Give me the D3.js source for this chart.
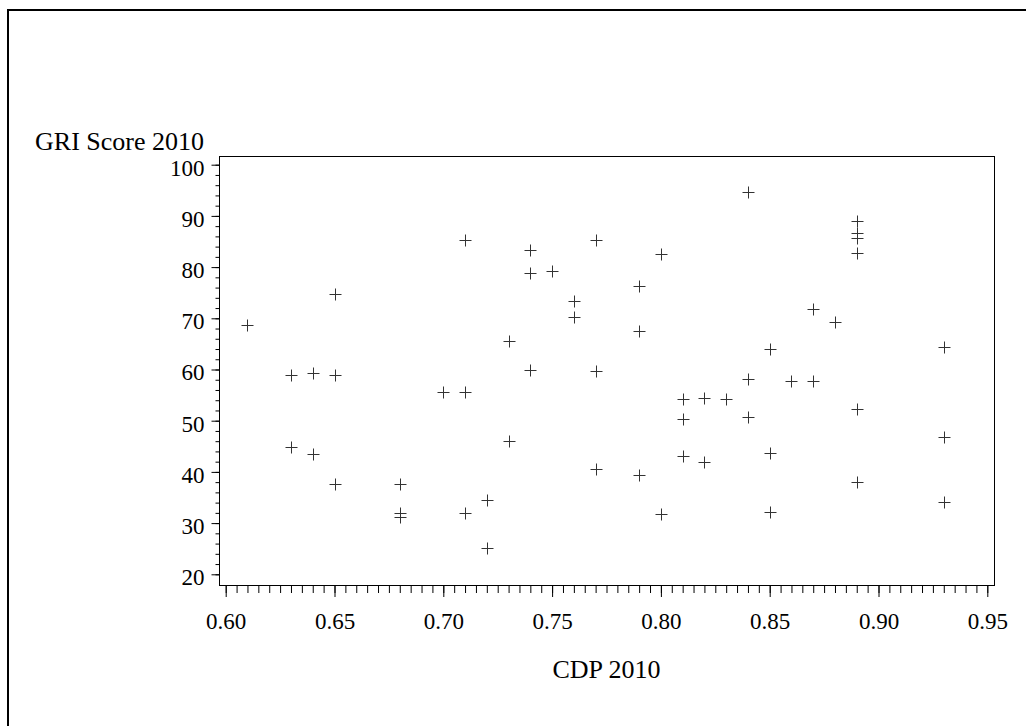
<!DOCTYPE html>
<html><head><meta charset="utf-8">
<script src="https://cdn.jsdelivr.net/npm/d3@7"></script>
<style>
html,body{margin:0;padding:0;background:#fff;}
svg{display:block;}
text{font-family:"Liberation Serif","Times New Roman",serif;fill:#000;}
</style></head>
<body>
<script>
const cdp = [0.61,0.63,0.63,0.64,0.64,0.65,0.65,0.65,0.68,0.68,0.68,0.70,0.71,0.71,0.71,0.72,0.72,0.73,0.73,0.74,0.74,0.74,0.75,0.76,0.76,0.77,0.77,0.77,0.79,0.79,0.79,0.80,0.80,0.81,0.81,0.81,0.82,0.82,0.83,0.84,0.84,0.84,0.85,0.85,0.85,0.86,0.87,0.87,0.88,0.89,0.89,0.89,0.89,0.89,0.89,0.93,0.93,0.93];
const gri = [68.7,58.9,44.8,59.3,43.5,74.7,58.9,37.6,37.6,31.9,31.1,55.7,85.2,55.7,31.9,34.5,25.1,65.5,46.0,83.3,78.8,60.0,79.3,73.4,70.3,85.2,59.7,40.5,76.3,67.5,39.3,82.5,31.8,54.2,50.3,43.2,54.5,42.0,54.2,94.6,58.1,50.7,64.0,43.6,32.2,57.8,71.8,57.8,69.2,89.1,86.6,85.7,82.8,52.3,38.1,64.3,46.8,34.2];
const xMajor = [0.60,0.65,0.70,0.75,0.80,0.85,0.90,0.95];
const yMajor = [20,30,40,50,60,70,80,90,100];
const xLabel = "CDP 2010";
const yLabel = "GRI Score 2010";

const W = 1026, H = 726;
const svg = d3.select("body").append("svg").attr("width", W).attr("height", H);

// outer border (clipped at right/bottom)
svg.append("line").attr("x1",7).attr("x2",W).attr("y1",10).attr("y2",10).attr("stroke","#000").attr("stroke-width",2);
svg.append("line").attr("x1",8).attr("x2",8).attr("y1",9).attr("y2",H).attr("stroke","#000").attr("stroke-width",2);

const frame = {l:219, r:994, t:156, b:585};
const x = d3.scaleLinear().domain([0.60,0.95]).range([225.7,987.3]);
const y = d3.scaleLinear().domain([20,100]).range([574.3,164.7]);
const FS = 23, TFS = 26;

// frame
svg.append("rect").attr("x",frame.l+0.5).attr("y",frame.t+0.5)
  .attr("width",frame.r-frame.l).attr("height",frame.b-frame.t)
  .attr("fill","none").attr("stroke","#000").attr("stroke-width",1);

// y axis minor + major
const yMinor = d3.range(20,101,2);
const yAxMinor = svg.append("g").attr("transform",`translate(${frame.l+0.5},0)`)
  .call(d3.axisLeft(y).tickValues(yMinor).tickSize(4).tickFormat(""));
const yAx = svg.append("g").attr("transform",`translate(${frame.l+0.5},0)`)
  .call(d3.axisLeft(y).tickValues(yMajor).tickSize(8).tickPadding(7).tickFormat(d3.format("d")));
[yAxMinor,yAx].forEach(g=>{g.select(".domain").remove();g.selectAll("line").attr("stroke","#000");});
yAx.selectAll("text").attr("font-size",FS).attr("dy","0.45em");

// x axis minor + major
const xMinor = d3.range(0,71).map(i=>0.60+i*0.005);
const xAxMinor = svg.append("g").attr("transform",`translate(0,${frame.b+1})`)
  .call(d3.axisBottom(x).tickValues(xMinor).tickSize(7).tickFormat(""));
const xAx = svg.append("g").attr("transform",`translate(0,${frame.b+1})`)
  .call(d3.axisBottom(x).tickValues(xMajor).tickSize(11).tickPadding(16).tickFormat(d3.format(".2f")));
[xAxMinor,xAx].forEach(g=>{g.select(".domain").remove();g.selectAll("line").attr("stroke","#000");});
xAx.selectAll("text").attr("font-size",FS);

// points (plus markers)
const pts = svg.append("g");
cdp.forEach((c,i)=>{
  const px = Math.round(x(c))+0.5, py = Math.round(y(gri[i]))+0.5;
  pts.append("path").attr("d",`M${px-6},${py}H${px+6}M${px},${py-6}V${py+6}`)
    .attr("stroke","#333").attr("stroke-width",1).attr("fill","none");
});

// titles
svg.append("text").attr("x",204).attr("y",150).attr("text-anchor","end")
  .attr("font-size",TFS).text(yLabel);
svg.append("text").attr("x",(frame.l+frame.r)/2).attr("y",678).attr("text-anchor","middle")
  .attr("font-size",TFS).text(xLabel);
</script>
</body></html>
